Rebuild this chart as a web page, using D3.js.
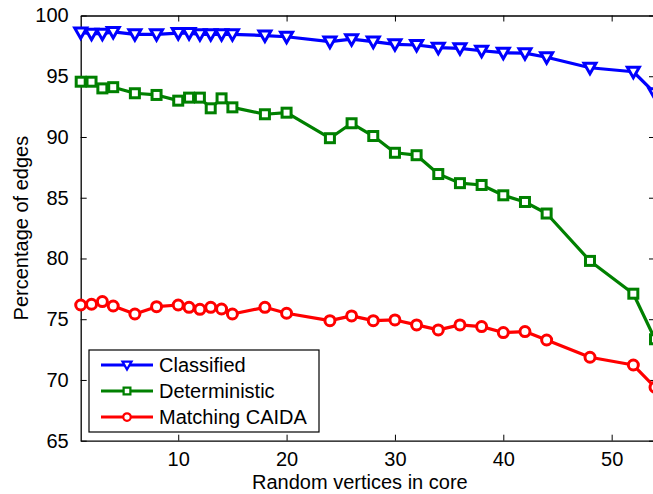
<!DOCTYPE html>
<html>
<head>
<meta charset="utf-8">
<script src="https://cdn.jsdelivr.net/npm/d3@7"></script>
<style>
  body { margin: 0; background: #fff; }
  svg { display: block; font-family: "Liberation Sans", Arial, sans-serif; }
  .axis path, .axis line { stroke: #000; }
  .axis text { fill: #000; font-size: 20px; }
</style>
</head>
<body>
<svg id="chart" width="653" height="494"></svg>
<script>
// values
const xValues = [1, 2, 3, 4, 6, 8, 10, 11, 12, 13, 14, 15, 18, 20, 24, 26, 28, 30, 32, 34, 36, 38, 40, 42, 44, 48, 52, 54];
const classified = [98.6, 98.5, 98.5, 98.65, 98.45, 98.45, 98.55, 98.55, 98.45, 98.45, 98.45, 98.45, 98.35, 98.25, 97.85, 98.05,
  97.85, 97.63, 97.57, 97.35, 97.3, 97.1, 96.94, 96.9, 96.56, 95.7, 95.37, 93.6];
const deterministic = [94.55, 94.55, 94.0, 94.1, 93.6, 93.46, 92.99, 93.24, 93.24, 92.36, 93.18, 92.44, 91.87, 92.0, 89.9, 91.13,
  90.08, 88.7, 88.5, 86.95, 86.2, 86.05, 85.2, 84.65, 83.7, 79.8, 77.1, 73.35];
const matching = [76.17, 76.23, 76.45, 76.09, 75.43, 76.03, 76.17, 75.98, 75.81, 75.98, 75.84, 75.43, 75.98, 75.49, 74.88, 75.27,
  74.88, 74.94, 74.53, 74.12, 74.53, 74.39, 73.9, 73.98, 73.29, 71.87, 71.23, 69.4];
const xTicks = [10, 20, 30, 40, 50];
const yTicks = [65, 70, 75, 80, 85, 90, 95, 100];

const seriesNames = ["Classified", "Deterministic", "Matching CAIDA"];
const seriesColors = ["#0000ff", "#008000", "#ff0000"];
const seriesMarkers = ["triangle", "square", "circle"];
const seriesValues = [classified, deterministic, matching];

var svg = d3.select("#chart"),
  margin = { top: 15.5, right: -2, bottom: 53.3, left: 80.7 },
  width = +svg.attr("width") - margin.left - margin.right,
  height = +svg.attr("height") - margin.top - margin.bottom;

var x = d3.scaleLinear().domain([1, 54]).range([0, width]),
  y = d3.scaleLinear().domain([65, 100]).range([height, 0]);

var g = svg.append("g").attr("transform", `translate(${margin.left},${margin.top})`);

// axes with inward ticks on all four sides (box)
g.append("g")
  .attr("class", "axis")
  .attr("transform", `translate(0,${height})`)
  .call(d3.axisBottom(x).tickValues(xTicks).tickSizeInner(-6).tickSizeOuter(0).tickPadding(11))
  .call(a => a.select(".domain").attr("stroke-width", 1.3));
g.append("g")
  .attr("class", "axis")
  .call(d3.axisTop(x).tickValues(xTicks).tickSizeInner(-6).tickSizeOuter(0).tickFormat(""))
  .call(a => a.select(".domain").attr("stroke-width", 1.3));
g.append("g")
  .attr("class", "axis")
  .call(d3.axisLeft(y).tickValues(yTicks).tickSizeInner(-6).tickSizeOuter(0).tickPadding(12))
  .call(a => a.select(".domain").attr("stroke-width", 1.3));
g.append("g")
  .attr("class", "axis")
  .attr("transform", `translate(${width},0)`)
  .call(d3.axisRight(y).tickValues(yTicks).tickSizeInner(-6).tickSizeOuter(0).tickFormat(""));

// axis titles
svg.append("text")
  .attr("x", margin.left + x(27.5) - 8)
  .attr("y", 489)
  .attr("text-anchor", "middle")
  .attr("font-size", 20)
  .text("Random vertices in core");
svg.append("text")
  .attr("transform", `translate(28,${margin.top + height / 2}) rotate(-90)`)
  .attr("text-anchor", "middle")
  .attr("font-size", 20)
  .text("Percentage of edges");

function marker(sel, type, color, s) {
  if (type === "triangle") {
    sel.append("path").attr("d", `M${-6 * s},${-4.5 * s}L${6 * s},${-4.5 * s}L0,${6 * s}Z`);
  } else if (type === "square") {
    sel.append("rect").attr("x", -4.5 * s).attr("y", -4.5 * s).attr("width", 9 * s).attr("height", 9 * s);
  } else {
    sel.append("circle").attr("r", 5 * s);
  }
  sel.selectAll("*")
    .attr("fill", "#fff")
    .attr("stroke", color)
    .attr("stroke-width", 3 * s);
}

var line = d3.line()
  .x((d, i) => x(xValues[i]))
  .y(d => y(d));

seriesValues.forEach((vals, k) => {
  g.append("path")
    .datum(vals)
    .attr("fill", "none")
    .attr("stroke", seriesColors[k])
    .attr("stroke-width", 3.2)
    .attr("stroke-linejoin", "round")
    .attr("d", line);

  g.selectAll(".m" + k)
    .data(vals)
    .enter()
    .append("g")
    .attr("class", "m" + k)
    .attr("transform", (d, i) => `translate(${x(xValues[i])},${y(d)})`)
    .each(function() { marker(d3.select(this), seriesMarkers[k], seriesColors[k], 1); });
});

// legend
var legend = svg.append("g").attr("transform", "translate(89,350)");
legend.append("rect")
  .attr("width", 230)
  .attr("height", 82)
  .attr("fill", "#fff")
  .attr("stroke", "#000")
  .attr("stroke-width", 1.2);

seriesNames.forEach((name, k) => {
  var row = legend.append("g").attr("transform", `translate(0,${15 + k * 26})`);
  row.append("line")
    .attr("x1", 12).attr("x2", 64)
    .attr("stroke", seriesColors[k])
    .attr("stroke-width", 3.2);
  var m = row.append("g").attr("transform", "translate(38,0)");
  marker(m, seriesMarkers[k], seriesColors[k], 0.75);
  row.append("text")
    .attr("x", 70)
    .attr("y", 7)
    .attr("font-size", 20)
    .text(name);
});
</script>
</body>
</html>
